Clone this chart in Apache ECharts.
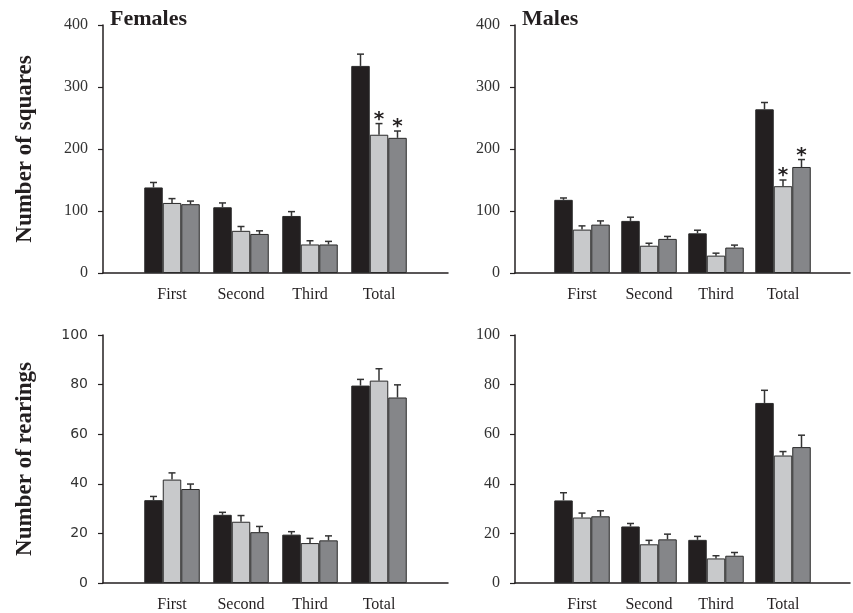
<!DOCTYPE html>
<html>
<head>
<meta charset="utf-8">
<script src="https://cdn.jsdelivr.net/npm/echarts@6/dist/echarts.min.js"></script>
<style>
  html, body { margin: 0; padding: 0; background: #fff; }
  #chart { width: 853px; height: 613px; }
</style>
</head>
<body>
<div id="chart"></div>
<script>
// categories and groups
const categories = ['First', 'Second', 'Third', 'Total'];
const groups = ['Group 1', 'Group 2', 'Group 3'];

// Number of squares, females (mean / SEM per group)
const femSquaresMean = [[138, 106, 92, 334], [113, 68, 46, 223], [111, 63, 46, 218]];
const femSquaresErr = [[8, 7, 7, 19], [7, 7, 6, 18], [5, 5, 5, 11]];
const femSquaresSig = [[0, 0, 0, 0], [0, 0, 0, 1], [0, 0, 0, 1]];

// Number of squares, males
const maleSquaresMean = [[118, 84, 64, 264], [70, 44, 28, 140], [78, 55, 41, 171]];
const maleSquaresErr = [[3, 6, 5, 11], [6, 4, 4, 10], [6, 4, 4, 12]];
const maleSquaresSig = [[0, 0, 0, 0], [0, 0, 0, 1], [0, 0, 0, 1]];

// Number of rearings, females
const femRearMean = [[33.4, 27.5, 19.5, 79.6], [41.7, 24.7, 16.1, 81.6], [37.9, 20.5, 17.2, 74.8]];
const femRearErr = [[1.5, 1, 1.2, 2.5], [2.7, 2.5, 1.9, 4.8], [2, 2.3, 1.8, 5.1]];

// Number of rearings, males
const maleRearMean = [[33.3, 22.8, 17.4, 72.6], [26.4, 15.6, 9.9, 51.4], [26.9, 17.6, 11, 54.8]];
const maleRearErr = [[3.1, 1.2, 1.4, 5.1], [1.8, 1.6, 1.1, 1.6], [2.2, 2.1, 1.3, 4.8]];

const squaresTicks = [0, 400, 100];
const rearTicks = [0, 100, 20];

const colors = ['#231f20', '#c8c9cb', '#858689'];
const ink = '#231f20';
const serif = '"Liberation Serif", "Times New Roman", serif';
const barW = 18.5;

const panels = [
  { mean: femSquaresMean, err: femSquaresErr, sig: femSquaresSig, ticks: squaresTicks,
    title: 'Females', name: 'Number of squares', left: 103, top: 25, labelFont: serif },
  { mean: maleSquaresMean, err: maleSquaresErr, sig: maleSquaresSig, ticks: squaresTicks,
    title: 'Males', name: '', left: 515, top: 25, labelFont: serif },
  { mean: femRearMean, err: femRearErr, sig: null, ticks: rearTicks,
    title: '', name: 'Number of rearings', left: 103, top: 335, labelFont: '"DejaVu Sans", sans-serif' },
  { mean: maleRearMean, err: maleRearErr, sig: null, ticks: rearTicks,
    title: '', name: '', left: 515, top: 335, labelFont: serif }
];

const axisCats = [''].concat(categories, ['']);

const chart = echarts.init(document.getElementById('chart'));

const grid = [], xAxis = [], yAxis = [], series = [], title = [];

panels.forEach(function (p, i) {
  grid.push({ left: p.left, top: p.top, width: 345, height: 248 });
  xAxis.push({
    gridIndex: i,
    type: 'category',
    data: axisCats,
    boundaryGap: false,
    axisLine: { lineStyle: { color: ink, width: 1.5 } },
    axisTick: { show: false },
    axisLabel: { interval: 0, margin: 14, color: ink, fontFamily: serif, fontSize: 16 },
    splitLine: { show: false }
  });
  yAxis.push({
    gridIndex: i,
    type: 'value',
    min: p.ticks[0], max: p.ticks[1], interval: p.ticks[2],
    name: p.name,
    nameLocation: 'middle',
    nameGap: 66,
    nameTextStyle: { fontFamily: serif, fontWeight: 'bold', fontSize: 23, color: ink },
    axisLine: { show: true, lineStyle: { color: ink, width: 1.5 } },
    axisTick: { show: true, length: 5, lineStyle: { color: ink, width: 1.2 } },
    axisLabel: { margin: 15, color: '#333', fontFamily: p.labelFont, fontSize: p.labelFont === serif ? 16 : 14 },
    splitLine: { show: false }
  });
  if (p.title) {
    title.push({
      text: p.title, left: p.left + 2, top: 3,
      textStyle: { fontFamily: serif, fontWeight: 'bold', fontSize: 22, color: ink }
    });
  }
  groups.forEach(function (g, s) {
    series.push({
      name: g,
      type: 'bar',
      xAxisIndex: i, yAxisIndex: i,
      barWidth: barW,
      barGap: '0%',
      itemStyle: { color: colors[s], borderColor: '#2a2a2a', borderWidth: 1 },
      data: ['-'].concat(p.mean[s], ['-'])
    });
  });
  groups.forEach(function (g, s) {
    const offset = (s - 1) * barW;
    series.push({
      name: g,
      type: 'custom',
      xAxisIndex: i, yAxisIndex: i,
      z: 3,
      encode: { x: 0, y: 1 },
      data: p.mean[s].map(function (m, c) {
        return [c + 1, m, p.err[s][c], p.sig ? p.sig[s][c] : 0];
      }),
      renderItem: function (params, api) {
        const base = api.coord([api.value(0), api.value(1)]);
        const top = api.coord([api.value(0), api.value(1) + api.value(2)]);
        const x = base[0] + offset;
        const style = { stroke: '#333', lineWidth: 1.5 };
        const children = [
          { type: 'line', shape: { x1: x, y1: base[1], x2: x, y2: top[1] }, style: style },
          { type: 'line', shape: { x1: x - 3.5, y1: top[1], x2: x + 3.5, y2: top[1] }, style: style }
        ];
        if (api.value(3)) {
          children.push({
            type: 'text',
            style: {
              text: '*', x: x, y: top[1] + 6,
              textAlign: 'center', textVerticalAlign: 'bottom',
              font: 'bold 20px "DejaVu Sans", sans-serif', fill: ink
            }
          });
        }
        return { type: 'group', children: children };
      }
    });
  });
});

chart.setOption({
  backgroundColor: '#fff',
  animation: false,
  title: title,
  grid: grid,
  xAxis: xAxis,
  yAxis: yAxis,
  series: series
});
</script>
</body>
</html>
